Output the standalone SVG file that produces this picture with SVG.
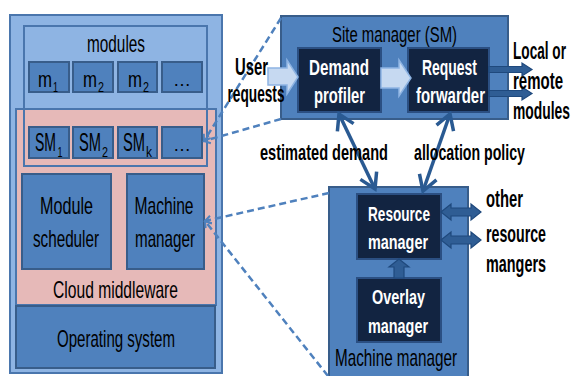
<svg xmlns="http://www.w3.org/2000/svg" width="572" height="376" viewBox="0 0 572 376">
  <style>
    text { font-family: "Liberation Sans Narrow", "Liberation Sans", Arial, sans-serif; }
    .lbl { fill: #000; }
    .wlbl { fill: #fff; font-weight: bold; }
    .blbl { fill: #000; font-weight: bold; }
    .c { text-anchor: middle; }
    .mid { fill: #4F81BD; stroke: #385D8A; stroke-width: 2; }
    .light { fill: #8EB4E3; stroke: #4A76AD; stroke-width: 2; }
    .dark { fill: #122441; stroke: #2B4F82; stroke-width: 2; }
    .dash { fill: none; stroke: #4F81BD; stroke-width: 2.5; stroke-dasharray: 7 4; }
    .link { fill: none; stroke: #2A5A92; stroke-width: 3.5; }
    .blockarrow { fill: #C6D9F1; stroke: #8EB4E3; stroke-width: 1.5; }
    .darkarrow { fill: #2F5D94; stroke: #1F497D; stroke-width: 1.2; }
  </style>
  <defs>
    <marker id="vhead" markerUnits="userSpaceOnUse" markerWidth="30" markerHeight="30" viewBox="-20 -15 30 30" refX="0" refY="0" orient="auto-start-reverse">
      <path d="M -15 -9 L 0 0 L -15 9" fill="none" stroke="#2A5A92" stroke-width="3.5"/>
    </marker>
    <marker id="dhead" markerUnits="userSpaceOnUse" markerWidth="14" markerHeight="14" viewBox="-10 -7 14 14" refX="0" refY="0" orient="auto">
      <path d="M -6 -4 L 0 0 L -6 4" fill="none" stroke="#4F81BD" stroke-width="2"/>
    </marker>
  </defs>

  <rect width="572" height="376" fill="#fff"/>

  <!-- All labels use a condensed face: drawn at half width, textLength given in the scaled frame -->

  <!-- Machine stack on the left -->
  <g id="machine">
    <rect class="light" x="10" y="15" width="212" height="358"/>
  </g>
  <g id="modules">
    <rect class="light" x="24" y="26" width="183" height="140"/>
    <text class="lbl c" transform="translate(116,52) scale(0.5,1)" font-size="23" textLength="116" lengthAdjust="spacingAndGlyphs">modules</text>
  </g>
  <g id="cloud-middleware">
    <rect x="16" y="109" width="200" height="196" fill="#E6B9B8" stroke="#4A76AD" stroke-width="2"/>
    <!-- outline of the modules panel stays visible over the middleware layer -->
    <rect x="24" y="26" width="183" height="140" fill="none" stroke="#4A76AD" stroke-width="2"/>
    <text class="lbl c" transform="translate(115.5,298) scale(0.5,1)" font-size="23" textLength="250" lengthAdjust="spacingAndGlyphs">Cloud middleware</text>
  </g>
  <g id="m1">
    <rect class="mid" x="29" y="62" width="40" height="30"/>
    <text class="lbl" transform="translate(38,87) scale(0.5,1)" font-size="22" textLength="28" lengthAdjust="spacingAndGlyphs">m</text>
    <text class="lbl" transform="translate(53,92) scale(0.5,1)" font-size="14" textLength="10" lengthAdjust="spacingAndGlyphs">1</text>
  </g>
  <g id="m2a">
    <rect class="mid" x="73" y="62" width="40" height="30"/>
    <text class="lbl" transform="translate(83,87) scale(0.5,1)" font-size="22" textLength="28" lengthAdjust="spacingAndGlyphs">m</text>
    <text class="lbl" transform="translate(98,92) scale(0.5,1)" font-size="14" textLength="12" lengthAdjust="spacingAndGlyphs">2</text>
  </g>
  <g id="m2b">
    <rect class="mid" x="118" y="62" width="39" height="30"/>
    <text class="lbl" transform="translate(128,87) scale(0.5,1)" font-size="22" textLength="28" lengthAdjust="spacingAndGlyphs">m</text>
    <text class="lbl" transform="translate(143,92) scale(0.5,1)" font-size="14" textLength="12" lengthAdjust="spacingAndGlyphs">2</text>
  </g>
  <g id="m-more">
    <rect class="mid" x="162" y="62" width="40" height="30"/>
    <text class="lbl c" x="182" y="86" font-size="18">…</text>
  </g>
  <g id="sm1">
    <rect class="mid" x="29" y="127" width="40" height="31"/>
    <text class="lbl" transform="translate(35,151) scale(0.5,1)" font-size="25" textLength="42" lengthAdjust="spacingAndGlyphs">SM</text>
    <text class="lbl" transform="translate(57.5,157) scale(0.5,1)" font-size="15" textLength="10" lengthAdjust="spacingAndGlyphs">1</text>
  </g>
  <g id="sm2">
    <rect class="mid" x="73" y="127" width="40" height="31"/>
    <text class="lbl" transform="translate(79,151) scale(0.5,1)" font-size="25" textLength="44" lengthAdjust="spacingAndGlyphs">SM</text>
    <text class="lbl" transform="translate(102,157) scale(0.5,1)" font-size="15" textLength="12" lengthAdjust="spacingAndGlyphs">2</text>
  </g>
  <g id="smk">
    <rect class="mid" x="118" y="127" width="39" height="31"/>
    <text class="lbl" transform="translate(123,151) scale(0.5,1)" font-size="25" textLength="44" lengthAdjust="spacingAndGlyphs">SM</text>
    <text class="lbl" transform="translate(146,157) scale(0.5,1)" font-size="15" textLength="12" lengthAdjust="spacingAndGlyphs">k</text>
  </g>
  <g id="sm-more">
    <rect class="mid" x="162" y="127" width="40" height="31"/>
    <text class="lbl c" x="182" y="151" font-size="18">…</text>
  </g>
  <g id="module-scheduler">
    <rect class="mid" x="22" y="174" width="89" height="95"/>
    <text class="lbl c" transform="translate(66.5,214) scale(0.5,1)" font-size="23" textLength="106" lengthAdjust="spacingAndGlyphs">Module</text>
    <text class="lbl c" transform="translate(66,247) scale(0.5,1)" font-size="23" textLength="132" lengthAdjust="spacingAndGlyphs">scheduler</text>
  </g>
  <g id="machine-manager-slot">
    <rect class="mid" x="127" y="174" width="77" height="95"/>
    <text class="lbl c" transform="translate(164,214) scale(0.5,1)" font-size="23" textLength="118" lengthAdjust="spacingAndGlyphs">Machine</text>
    <text class="lbl c" transform="translate(165,247) scale(0.5,1)" font-size="23" textLength="120" lengthAdjust="spacingAndGlyphs">manager</text>
  </g>
  <g id="operating-system">
    <rect class="mid" x="16" y="306" width="199" height="62"/>
    <text class="lbl c" transform="translate(116,347) scale(0.5,1)" font-size="23" textLength="236" lengthAdjust="spacingAndGlyphs">Operating system</text>
  </g>

  <!-- Site manager detail -->
  <g id="site-manager">
    <rect class="mid" x="281" y="16" width="227" height="103"/>
    <text class="lbl c" transform="translate(394.5,42) scale(0.5,1)" font-size="22" textLength="250" lengthAdjust="spacingAndGlyphs">Site manager (SM)</text>
  </g>
  <g id="demand-profiler">
    <rect class="dark" x="298" y="48" width="83" height="64"/>
    <text class="wlbl c" transform="translate(339,75) scale(0.5,1)" font-size="22" textLength="120" lengthAdjust="spacingAndGlyphs">Demand</text>
    <text class="wlbl c" transform="translate(339.5,103) scale(0.5,1)" font-size="22" textLength="102" lengthAdjust="spacingAndGlyphs">profiler</text>
  </g>
  <g id="request-forwarder">
    <rect class="dark" x="408" y="48" width="81" height="64"/>
    <text class="wlbl c" transform="translate(449.5,75) scale(0.5,1)" font-size="22" textLength="110" lengthAdjust="spacingAndGlyphs">Request</text>
    <text class="wlbl c" transform="translate(450.5,103) scale(0.5,1)" font-size="22" textLength="138" lengthAdjust="spacingAndGlyphs">forwarder</text>
  </g>

  <!-- Machine manager detail -->
  <g id="machine-manager">
    <rect class="mid" x="329" y="187" width="139" height="195"/>
    <text class="lbl c" transform="translate(396,366) scale(0.5,1)" font-size="23" textLength="244" lengthAdjust="spacingAndGlyphs">Machine manager</text>
  </g>
  <g id="resource-manager">
    <rect class="dark" x="357" y="194" width="84" height="65"/>
    <text class="wlbl c" transform="translate(399,221) scale(0.5,1)" font-size="21" textLength="124" lengthAdjust="spacingAndGlyphs">Resource</text>
    <text class="wlbl c" transform="translate(398,249) scale(0.5,1)" font-size="21" textLength="120" lengthAdjust="spacingAndGlyphs">manager</text>
  </g>
  <g id="overlay-manager">
    <rect class="dark" x="357" y="278" width="84" height="64"/>
    <text class="wlbl c" transform="translate(398.5,304) scale(0.5,1)" font-size="21" textLength="106" lengthAdjust="spacingAndGlyphs">Overlay</text>
    <text class="wlbl c" transform="translate(398,333) scale(0.5,1)" font-size="21" textLength="120" lengthAdjust="spacingAndGlyphs">manager</text>
  </g>

  <!-- Connectors -->
  <g id="connectors">
    <!-- callouts from the left stack to the detailed views -->
    <line class="dash" x1="281" y1="18" x2="204" y2="141" marker-end="url(#dhead)"/>
    <line class="dash" x1="281" y1="119" x2="204" y2="141" marker-end="url(#dhead)"/>
    <line class="dash" x1="329" y1="193" x2="205" y2="221" marker-end="url(#dhead)"/>
    <line class="dash" x1="328" y1="376" x2="205" y2="221" marker-end="url(#dhead)"/>

    <!-- request flow -->
    <polygon class="blockarrow" points="268,68 287,68 287,60 298,77 287,94 287,85 268,85"/>
    <polygon class="blockarrow" points="381,68 399,68 399,60 411,78 399,96 399,88 381,88"/>

    <!-- outputs of the request forwarder -->
    <polygon class="darkarrow" points="489,66.5 522,66.5 522,63 532,69.5 522,76 522,72.5 489,72.5"/>
    <polygon class="darkarrow" points="489,90.5 522,90.5 522,87 532,93.5 522,100 522,96.5 489,96.5"/>

    <!-- exchanges with other resource managers -->
    <polygon class="darkarrow" points="441,212 451,204 451,208 471,208 471,204 481,212 471,220 471,216 451,216 451,220"/>
    <polygon class="darkarrow" points="441,240 451,232 451,236 471,236 471,232 481,240 471,248 471,244 451,244 451,248"/>

    <!-- overlay manager to resource manager -->
    <polygon class="darkarrow" points="394,278 394,267 389,267 399,259 409,267 404,267 404,278"/>

    <!-- estimated demand / allocation policy -->
    <line class="link" x1="339" y1="114" x2="375" y2="189" marker-start="url(#vhead)" marker-end="url(#vhead)"/>
    <line class="link" x1="450" y1="114" x2="423" y2="191" marker-start="url(#vhead)" marker-end="url(#vhead)"/>
  </g>

  <!-- Free labels -->
  <g id="labels">
    <text class="blbl c" transform="translate(251.5,75) scale(0.5,1)" font-size="23" textLength="66" lengthAdjust="spacingAndGlyphs">User</text>
    <text class="blbl c" transform="translate(256,102) scale(0.5,1)" font-size="23" textLength="114" lengthAdjust="spacingAndGlyphs">requests</text>
    <text class="blbl" transform="translate(513,59) scale(0.5,1)" font-size="23" textLength="106" lengthAdjust="spacingAndGlyphs">Local or</text>
    <text class="blbl" transform="translate(513,89) scale(0.5,1)" font-size="23" textLength="100" lengthAdjust="spacingAndGlyphs">remote</text>
    <text class="blbl" transform="translate(513,119) scale(0.5,1)" font-size="23" textLength="114" lengthAdjust="spacingAndGlyphs">modules</text>
    <text class="blbl c" transform="translate(324,160) scale(0.5,1)" font-size="22" textLength="256" lengthAdjust="spacingAndGlyphs">estimated demand</text>
    <text class="blbl c" transform="translate(469.5,160) scale(0.5,1)" font-size="22" textLength="222" lengthAdjust="spacingAndGlyphs">allocation policy</text>
    <text class="blbl" transform="translate(486,207) scale(0.5,1)" font-size="23" textLength="74" lengthAdjust="spacingAndGlyphs">other</text>
    <text class="blbl" transform="translate(486,242) scale(0.5,1)" font-size="23" textLength="120" lengthAdjust="spacingAndGlyphs">resource</text>
    <text class="blbl" transform="translate(486,272) scale(0.5,1)" font-size="23" textLength="120" lengthAdjust="spacingAndGlyphs">mangers</text>
  </g>
</svg>
